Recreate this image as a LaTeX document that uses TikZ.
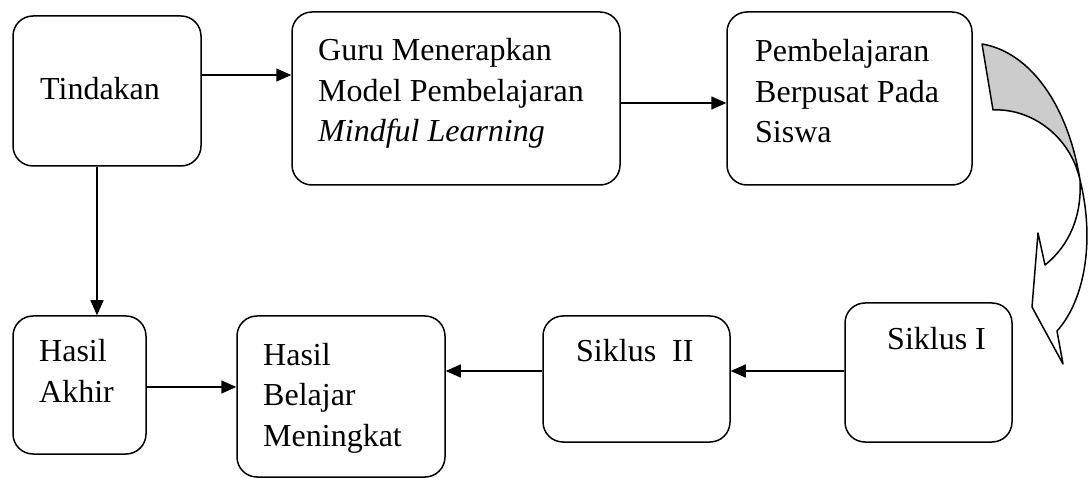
\documentclass[tikz,border=0pt]{standalone}
\usepackage{fontspec}
\setmainfont{Liberation Serif}
\usetikzlibrary{arrows.meta}
\begin{document}
\begin{tikzpicture}[x=1pt,y=-1pt,
  box/.style={draw,line width=1.5pt,rounded corners=20pt,inner sep=0pt},
  lbl/.style={anchor=base west,inner sep=0pt,align=left,font=\fontsize{32}{40.5}\selectfont},
  conn/.style={line width=1.5pt,-{Triangle[length=15pt,width=13pt]}}]
\useasboundingbox (0,0) rectangle (1090,478);
% boxes
\node[box,minimum width=188pt,minimum height=150pt] (tind) at (107,91) {};
\node[box,minimum width=328pt,minimum height=173pt] (guru) at (456,98.5) {};
\node[box,minimum width=245pt,minimum height=173pt] (pemb) at (849.5,98.5) {};
\node[box,minimum width=167pt,minimum height=139pt] (s1) at (928.5,372.5) {};
\node[box,minimum width=187pt,minimum height=126pt] (s2) at (636.5,379) {};
\node[box,minimum width=208pt,minimum height=161pt] (hbm) at (341,396.5) {};
\node[box,minimum width=133pt,minimum height=138pt] (ha) at (79.5,385) {};
% texts (anchored at the baseline of the last line)
\node[lbl] (ttind) at (40,100) {Tindakan};
\node[lbl] (tguru) at (318,142) {Guru Menerapkan\\Model Pembelajaran\\\textit{Mindful Learning}};
\node[lbl] (tpemb) at (755,143) {Pembelajaran\\Berpusat Pada\\Siswa};
\node[lbl] (ts1) at (887,350) {Siklus I};
\node[lbl] (ts2) at (576,362) {Siklus\ \ II};
\node[lbl] (thbm) at (263,446) {Hasil\\Belajar\\Meningkat};
\node[lbl] (tha) at (39,402) {Hasil\\Akhir};
% connectors
\draw[conn] (tind.east |- 0,75) -- (guru.west |- 0,75);
\draw[conn] (guru.east |- 0,103) -- (pemb.west |- 0,103);
\draw[conn] (tind.south -| 97,0) -- (ha.north -| 97,0);
\draw[conn] (s1.west |- 0,371) -- (s2.east |- 0,371);
\draw[conn] (s2.west |- 0,371) -- (hbm.east |- 0,371);
\draw[conn] (ha.east |- 0,387) -- (hbm.west |- 0,387);
% curved arrow
\filldraw[fill=black!20,line width=1.5pt,line join=round]
  (982,44) .. controls (1030,52) and (1068,105) .. (1080,180)
  .. controls (1070,135) and (1030,108) .. (993,110) -- cycle;
\draw[line width=1.5pt,line join=round]
  (1080,180) .. controls (1095,240) and (1085,300) .. (1057,331)
  -- (1063,364) -- (1032,307) -- (1038,233) -- (1045,265)
  .. controls (1070,245) and (1082,215) .. (1080,180);
\end{tikzpicture}
\end{document}
